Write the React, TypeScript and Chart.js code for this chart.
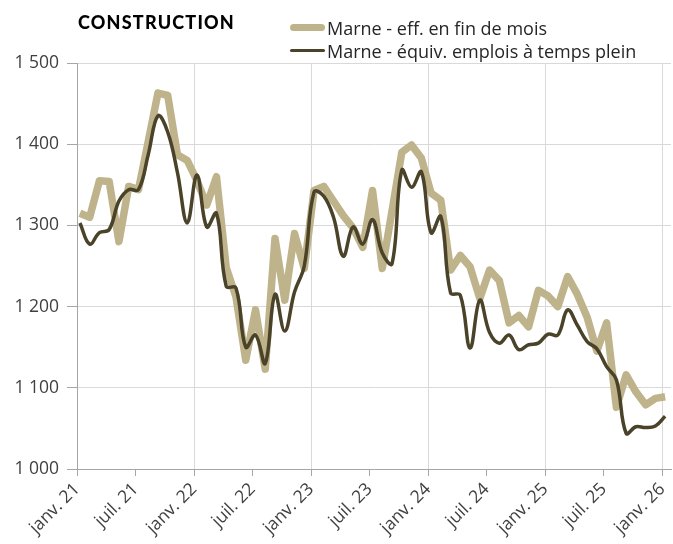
import React, { useEffect, useRef } from 'react';
import { Chart, registerables } from 'chart.js';

Chart.register(...registerables);

const tickLabels = ['janv. 21', 'juil. 21', 'janv. 22', 'juil. 22', 'janv. 23', 'juil. 23', 'janv. 24', 'juil. 24', 'janv. 25', 'juil. 25', 'janv. 26'];

const seriesLabels = ['Marne - eff. en fin de mois', 'Marne - équiv. emplois à temps plein'];

// janv. 21 -> janv. 26, monthly
const effFinMois = [
  1315, 1310, 1355, 1354, 1280, 1348, 1344, 1403, 1463, 1460, 1387, 1380,
  1355, 1325, 1360, 1248, 1212, 1134, 1196, 1123, 1284, 1208, 1290, 1247,
  1343, 1348, 1330, 1312, 1297, 1273, 1343, 1247, 1318, 1390, 1399, 1383,
  1340, 1331, 1245, 1263, 1249, 1210, 1245, 1232, 1180, 1189, 1175, 1220,
  1213, 1200, 1237, 1215, 1187, 1145, 1180, 1076, 1116, 1095, 1079, 1087,
  1089,
];

const equivEtp = [
  1303, 1277, 1291, 1295, 1330, 1344, 1344, 1387, 1435, 1415, 1365, 1303,
  1362, 1298, 1315, 1225, 1223, 1150, 1165, 1130, 1215, 1170, 1218, 1250,
  1341, 1336, 1310, 1262, 1298, 1277, 1307, 1266, 1253, 1368, 1347, 1366,
  1291, 1311, 1217, 1214, 1149, 1208, 1168, 1155, 1165, 1147, 1153, 1155,
  1166, 1165, 1196, 1177, 1157, 1148, 1126, 1110, 1044, 1052, 1051, 1053,
  1065,
];

const GOLD = '#BFB38B';
const DARK = '#4A4329';
const GRID = '#D9D9D9';
const AXIS = '#A6A6A6';
const TEXT = '#404040';
const FONT_FAMILY = '"Open Sans", sans-serif';

const fmt = (v: number) => {
  const s = String(v);
  return s.length > 3 ? s.slice(0, s.length - 3) + ' ' + s.slice(-3) : s;
};

export default function App() {
  const ref = useRef<HTMLCanvasElement>(null);

  useEffect(() => {
    document.body.style.margin = '0';
    const toPts = (arr: number[]) => arr.map((v, i) => ({ x: i + 0.3, y: v }));
    const chart = new Chart(ref.current!, {
      type: 'line',
      data: {
        datasets: [
          {
            label: seriesLabels[0],
            data: toPts(effFinMois),
            borderColor: GOLD,
            backgroundColor: GOLD,
            borderWidth: 7.5,
            tension: 0,
            pointRadius: 0,
            borderJoinStyle: 'round',
            borderCapStyle: 'butt',
            order: 1,
          },
          {
            label: seriesLabels[1],
            data: toPts(equivEtp),
            borderColor: DARK,
            backgroundColor: DARK,
            borderWidth: 3.5,
            tension: 0.4,
            pointRadius: 0,
            order: 0,
          },
        ],
      },
      options: {
        animation: false,
        responsive: false,
        maintainAspectRatio: false,
        layout: { padding: { top: 63, right: 2, left: 0, bottom: 0 } },
        plugins: { legend: { display: false }, tooltip: { enabled: false } },
        scales: {
          x: {
            type: 'linear',
            min: 0,
            max: 60.9,
            afterBuildTicks: (s: any) => {
              s.ticks = tickLabels.map((_, k) => ({ value: k * 6 }));
            },
            ticks: {
              autoSkip: false,
              minRotation: 45,
              maxRotation: 45,
              padding: 3,
              color: TEXT,
              font: { family: FONT_FAMILY, size: 17.5 },
              callback: (v: any) => tickLabels[Math.round(Number(v) / 6)],
            },
            grid: {
              color: (c: any) => (c.tick && Math.round(c.tick.value) % 12 === 0 ? GRID : 'rgba(0,0,0,0)'),
              tickColor: AXIS,
              tickLength: 7,
            },
            border: { color: AXIS },
            afterFit: (s: any) => {
              s.height = 75;
              s.paddingLeft = 0;
              s.paddingRight = 0;
            },
          },
          y: {
            min: 1000,
            max: 1500,
            ticks: {
              stepSize: 100,
              padding: 8,
              color: TEXT,
              font: { family: FONT_FAMILY, size: 17.5 },
              callback: (v: any) => fmt(Number(v)),
            },
            grid: { color: GRID, tickColor: AXIS, tickLength: 10 },
            border: { color: AXIS },
            afterFit: (s: any) => {
              s.width = 77;
              s.paddingTop = 0;
              s.paddingBottom = 0;
            },
          },
        },
      },
    });
    return () => chart.destroy();
  }, []);

  return (
    <div style={{ position: 'relative', width: 673, height: 544, background: '#fff', fontFamily: FONT_FAMILY }}>
      <canvas ref={ref} width={673} height={544} style={{ position: 'absolute', left: 0, top: 0 }} />
      <div
        style={{
          position: 'absolute',
          left: 78,
          top: 11,
          fontFamily: 'Lato, sans-serif',
          fontWeight: 900,
          fontSize: 18,
          color: '#000',
          letterSpacing: 1.2,
        }}
      >
        CONSTRUCTION
      </div>
      <div style={{ position: 'absolute', left: 290, top: 16 }}>
        {seriesLabels.map((lab, i) => (
          <div key={lab} style={{ display: 'flex', alignItems: 'center', height: 23 }}>
            <span
              style={{
                display: 'inline-block',
                width: 35,
                height: i === 0 ? 7 : 3.5,
                borderRadius: 4,
                background: i === 0 ? GOLD : DARK,
                marginRight: 2,
              }}
            />
            <span style={{ fontSize: 18, color: '#262626', whiteSpace: 'nowrap' }}>{lab}</span>
          </div>
        ))}
      </div>
    </div>
  );
}
